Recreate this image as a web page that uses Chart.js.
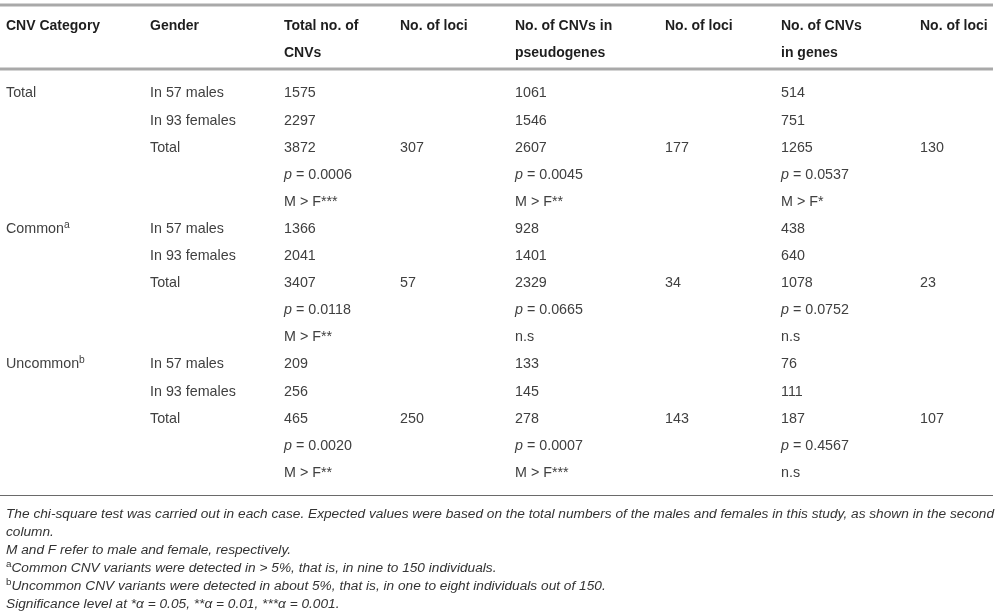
<!DOCTYPE html>
<html>
<head>
<meta charset="utf-8">
<script src="https://cdn.jsdelivr.net/npm/chart.js@4.4.1/dist/chart.umd.min.js"></script>
<style>
  html, body { margin: 0; padding: 0; background: #fff; }
  #wrap { width: 1000px; height: 614px; }
</style>
</head>
<body>
<div id="wrap"><canvas id="table" width="1000" height="614"></canvas></div>
<script>
// Table values (markup: ~ toggles italic, ^ toggles superscript)
const headers = [
  ['CNV Category'], ['Gender'], ['Total no. of', 'CNVs'], ['No. of loci'],
  ['No. of CNVs in', 'pseudogenes'], ['No. of loci'], ['No. of CNVs', 'in genes'], ['No. of loci']
];
const categories = ['Total', 'Common^a^', 'Uncommon^b^'];
const genders = ['In 57 males', 'In 93 females', 'Total'];

const totalCnvs = [[1575, 2297, 3872], [1366, 2041, 3407], [209, 256, 465]];
const totalP = ['0.0006', '0.0118', '0.0020'];
const totalSig = ['M > F***', 'M > F**', 'M > F**'];
const totalLoci = [307, 57, 250];

const pseudoCnvs = [[1061, 1546, 2607], [928, 1401, 2329], [133, 145, 278]];
const pseudoP = ['0.0045', '0.0665', '0.0007'];
const pseudoSig = ['M > F**', 'n.s', 'M > F***'];
const pseudoLoci = [177, 34, 143];

const geneCnvs = [[514, 751, 1265], [438, 640, 1078], [76, 111, 187]];
const geneP = ['0.0537', '0.0752', '0.4567'];
const geneSig = ['M > F*', 'n.s', 'n.s'];
const geneLoci = [130, 23, 107];

const footnotes = [
  '~The chi-square test was carried out in each case. Expected values were based on the total numbers of the males and females in this study, as shown in the second~',
  '~column.~',
  '~M and F refer to male and female, respectively.~',
  '^a^~Common CNV variants were detected in > 5%, that is, in nine to 150 individuals.~',
  '^b^~Uncommon CNV variants were detected in about 5%, that is, in one to eight individuals out of 150.~',
  '~Significance level at *\u03b1 = 0.05, **\u03b1 = 0.01, ***\u03b1 = 0.001.~'
];

// layout
const colX = [6, 150, 284, 400, 515, 665, 781, 920];
const rowY = r => 93.5 + 27.1 * r;
const headY = [26, 53];
const noteY = r => 514 + 18 * r;
const FONT = '"Liberation Sans", Arial, sans-serif';

// build the cells from the arrays
const bodyCells = [];
function cell(c, r, text) { bodyCells.push({ x: colX[c], y: rowY(r), text: String(text) }); }
categories.forEach((cat, g) => {
  const base = g * 5;
  cell(0, base, cat);
  genders.forEach((gd, i) => cell(1, base + i, gd));
  [[totalCnvs, totalP, totalSig, totalLoci, 2],
   [pseudoCnvs, pseudoP, pseudoSig, pseudoLoci, 4],
   [geneCnvs, geneP, geneSig, geneLoci, 6]].forEach(([cnv, p, sig, loci, c]) => {
    cnv[g].forEach((v, i) => cell(c, base + i, v));
    cell(c, base + 3, '~p~ = ' + p[g]);
    cell(c, base + 4, sig[g]);
    cell(c + 1, base + 2, loci[g]);
  });
});
const headCells = [];
headers.forEach((lines, c) => lines.forEach((t, i) => headCells.push({ x: colX[c], y: headY[i], text: t })));
const noteCells = footnotes.map((t, i) => ({ x: 6, y: noteY(i), text: t }));

function drawRich(ctx, text, x, y, size, weight, color) {
  let italic = false, sup = false, buf = '';
  ctx.fillStyle = color;
  ctx.textBaseline = 'middle';
  ctx.textAlign = 'left';
  const flush = () => {
    if (!buf) return;
    const s = sup ? size * 0.72 : size;
    ctx.font = (italic ? 'italic ' : '') + weight + ' ' + s + 'px ' + FONT;
    ctx.fillText(buf, x, sup ? y - size * 0.3 : y);
    x += ctx.measureText(buf).width;
    buf = '';
  };
  for (const ch of text) {
    if (ch === '~') { flush(); italic = !italic; }
    else if (ch === '^') { flush(); sup = !sup; }
    else buf += ch;
  }
  flush();
}

const tablePlugin = {
  id: 'tableText',
  beforeDatasetsDraw(chart) {
    const ctx = chart.ctx, xs = chart.scales.x, ys = chart.scales.y;
    const rule = (y, w, color) => {
      ctx.save();
      ctx.strokeStyle = color;
      ctx.lineWidth = w;
      ctx.beginPath();
      ctx.moveTo(xs.getPixelForValue(0), ys.getPixelForValue(y));
      ctx.lineTo(xs.getPixelForValue(993), ys.getPixelForValue(y));
      ctx.stroke();
      ctx.restore();
    };
    rule(5, 3, '#a9a9a9');
    rule(69, 3, '#a9a9a9');
    rule(495.5, 1.2, '#6a6a6a');
  },
  afterDatasetsDraw(chart) {
    const ctx = chart.ctx;
    chart.data.datasets.forEach((ds, di) => {
      const meta = chart.getDatasetMeta(di);
      meta.data.forEach((el, i) => {
        ctx.save();
        drawRich(ctx, ds.data[i].text, el.x, el.y, ds.textSize, ds.textWeight, ds.textColor);
        ctx.restore();
      });
    });
  }
};

new Chart(document.getElementById('table'), {
  type: 'scatter',
  data: {
    datasets: [
      { label: 'header', data: headCells, textSize: 14, textWeight: 'bold', textColor: '#1e1e1e', pointRadius: 0 },
      { label: 'body', data: bodyCells, textSize: 14.3, textWeight: 'normal', textColor: '#404040', pointRadius: 0 },
      { label: 'notes', data: noteCells, textSize: 13.7, textWeight: 'normal', textColor: '#333', pointRadius: 0 }
    ]
  },
  options: {
    responsive: false,
    animation: false,
    events: [],
    layout: { padding: 0 },
    scales: {
      x: { type: 'linear', min: 0, max: 1000, display: false },
      y: { type: 'linear', min: 0, max: 614, reverse: true, display: false }
    },
    plugins: { legend: { display: false }, tooltip: { enabled: false } }
  },
  plugins: [tablePlugin]
});
</script>
</body>
</html>
